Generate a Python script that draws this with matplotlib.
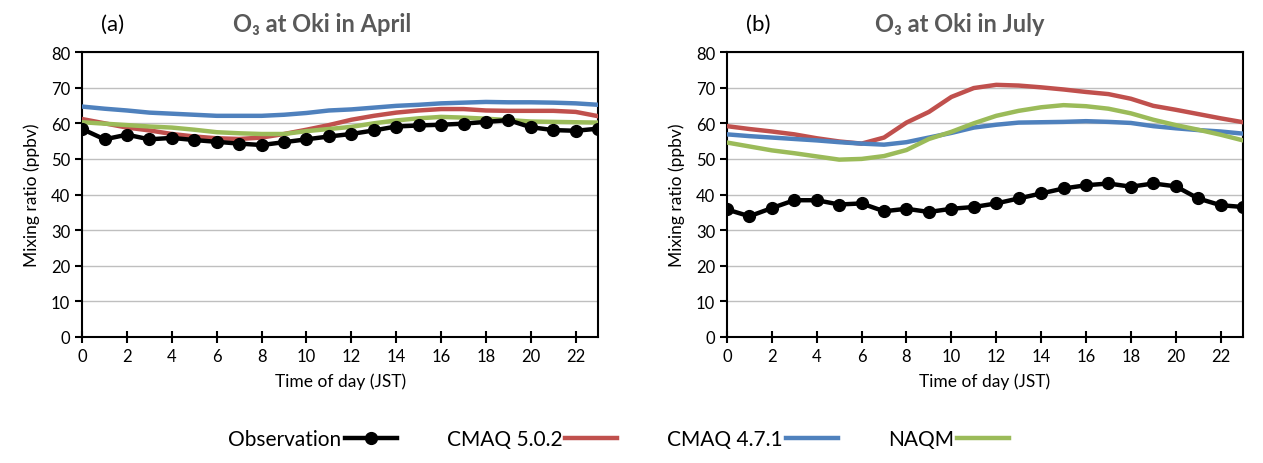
import numpy as np
from matplotlib import pyplot as plt
from matplotlib.lines import Line2D

plt.rcParams['font.family'] = ['Lato', 'DejaVu Sans']

hours = np.arange(24)

# April
obs_apr = [58.4, 55.5, 56.8, 55.5, 55.9, 55.3, 54.8, 54.3, 53.9, 54.7, 55.5, 56.3,
           57.0, 58.0, 59.1, 59.4, 59.6, 59.9, 60.4, 60.9, 58.9, 58.1, 57.9, 58.5]
cmaq502_apr = [61.2, 60.0, 58.8, 58.0, 57.0, 56.3, 55.8, 55.6, 56.0, 57.0, 58.2, 59.5,
               61.0, 62.1, 63.0, 63.6, 64.0, 64.0, 63.6, 63.5, 63.5, 63.5, 63.2, 62.0]
cmaq471_apr = [64.7, 64.1, 63.6, 63.0, 62.7, 62.4, 62.1, 62.1, 62.1, 62.4, 62.9, 63.6,
               63.9, 64.4, 64.9, 65.2, 65.6, 65.8, 66.0, 65.9, 65.9, 65.8, 65.6, 65.2]
naqm_apr = [60.3, 59.9, 59.5, 59.1, 58.8, 58.2, 57.5, 57.2, 57.0, 57.0, 57.8, 58.4,
            59.0, 60.0, 60.8, 61.4, 61.8, 61.6, 61.3, 60.9, 60.5, 60.4, 60.3, 60.2]

# July
obs_jul = [35.8, 33.9, 36.2, 38.4, 38.4, 37.2, 37.5, 35.3, 36.0, 35.1, 36.0, 36.5,
           37.5, 38.9, 40.3, 41.7, 42.6, 43.1, 42.2, 43.1, 42.3, 38.9, 37.0, 36.5]
cmaq502_jul = [59.2, 58.4, 57.7, 56.9, 55.8, 54.9, 54.3, 56.0, 60.2, 63.2, 67.4, 69.9,
               70.8, 70.6, 70.1, 69.5, 68.8, 68.2, 66.9, 64.9, 63.8, 62.6, 61.4, 60.3]
cmaq471_jul = [56.9, 56.4, 56.0, 55.6, 55.2, 54.7, 54.3, 54.0, 54.7, 56.0, 57.3, 58.8,
               59.6, 60.2, 60.3, 60.4, 60.6, 60.4, 60.1, 59.2, 58.6, 58.1, 57.7, 57.1]
naqm_jul = [54.6, 53.5, 52.4, 51.6, 50.7, 49.8, 50.0, 50.8, 52.5, 55.6, 57.6, 60.0,
            62.1, 63.5, 64.5, 65.1, 64.8, 64.1, 62.8, 61.0, 59.5, 58.2, 56.8, 55.2]

red = '#C0504D'
blue = '#4F81BD'
green = '#9BBB59'

fig = plt.figure(figsize=(12.63, 4.64), dpi=100)
ax1 = fig.add_axes([0.065, 0.2716, 0.4086, 0.614])
ax2 = fig.add_axes([0.5756, 0.2716, 0.4086, 0.614])

panels = [
    (ax1, obs_apr, cmaq502_apr, cmaq471_apr, naqm_apr, '(a)', 'O\u2083 at Oki in April', 0.255),
    (ax2, obs_jul, cmaq502_jul, cmaq471_jul, naqm_jul, '(b)', 'O\u2083 at Oki in July', 0.76),
]

for ax, obs, c5, c4, nq, lab, title, tx in panels:
    ax.plot(hours, c5, color=red, lw=3.2, zorder=3)
    ax.plot(hours, c4, color=blue, lw=3.2, zorder=3)
    ax.plot(hours, nq, color=green, lw=3.2, zorder=3)
    ax.plot(hours, obs, color='black', lw=3.2, marker='o', ms=8.5, zorder=4)
    ax.set_xlim(0, 23)
    ax.set_ylim(0, 80)
    ax.set_xticks(np.arange(0, 23, 2))
    ax.set_yticks(np.arange(0, 81, 10))
    ax.grid(axis='y', color='#BFBFBF', lw=1)
    ax.set_axisbelow(True)
    for s in ax.spines.values():
        s.set_color('black')
        s.set_linewidth(1.5)
    ax.tick_params(axis='both', labelsize=12, length=5, width=1.5, direction='out')
    ax.tick_params(axis='x', direction='inout', length=8, pad=4)
    ax.set_xlabel('Time of day (JST)', fontsize=12.5, labelpad=6)
    ax.set_ylabel('Mixing ratio (ppbv)', fontsize=12.5, labelpad=8)
    pos = ax.get_position()
    fig.text(pos.x0 + 0.015, 0.947, lab, fontsize=16, ha='left', va='center')
    fig.text(tx, 0.947, title, fontsize=17, fontweight='bold', color='#595959',
             ha='center', va='center', family=['Lato', 'DejaVu Sans'])

handles = [
    Line2D([], [], color='black', lw=3.2, marker='o', ms=8.5),
    Line2D([], [], color=red, lw=3.2),
    Line2D([], [], color=blue, lw=3.2),
    Line2D([], [], color=green, lw=3.2),
]
labels = ['Observation', 'CMAQ 5.0.2', 'CMAQ 4.7.1', 'NAQM']
fig.legend(handles, labels, loc='center', bbox_to_anchor=(0.49, 0.052), ncol=4,
           frameon=False, markerfirst=False, fontsize=15, handlelength=2.5,
           columnspacing=2.4, handletextpad=0.15)

fig.savefig('out.png', dpi=100)
